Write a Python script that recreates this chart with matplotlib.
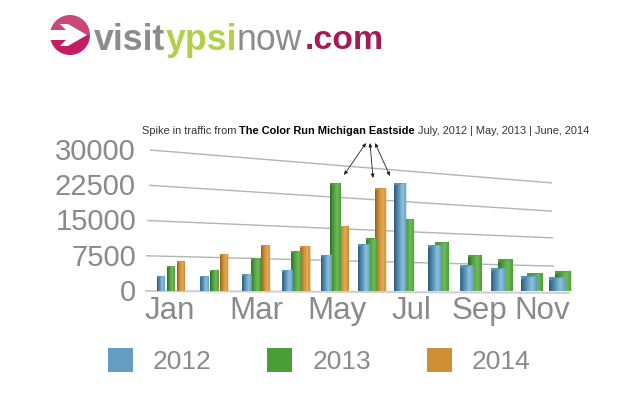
import numpy as np
import matplotlib
matplotlib.use("Agg")
import matplotlib.pyplot as plt
from matplotlib.colors import LinearSegmentedColormap
from matplotlib.patches import Patch, Polygon, Wedge
from matplotlib.transforms import Affine2D

W, H = 618, 412
months = ["Jan", "Feb", "Mar", "Apr", "May", "Jun", "Jul", "Aug", "Sep", "Oct", "Nov", "Dec"]
shown_months = ["Jan", "Mar", "May", "Jul", "Sep", "Nov"]
v2012 = [3200, 3200, 3600, 4500, 7700, 10000, 23000, 9800, 5500, 4900, 3200, 3000]
v2013 = [5300, 4500, 7000, 8500, 23000, 11300, 15300, 10400, 7700, 6800, 3800, 4300]
v2014 = [6400, 7900, 9800, 9600, 13800, 21900, 0, 0, 0, 0, 0, 0]
years = ["2012", "2013", "2014"]
y_ticks = [0, 7500, 15000, 22500, 30000]
# the grid lines run downhill, this is where each one seems to end on the right
grid_right = [-400, 5300, 11300, 17000, 23000]

GREY = "#8a8a8a"
FONT = "Liberation Sans"
blue = ["#2f5a78", "#5590b5", "#8cc0de", "#659fc4"]
green = ["#2f6e28", "#4f9f40", "#70bb58", "#4c9c3c"]
orange = ["#94621f", "#cc8e37", "#e6aa55", "#c98a30"]
legend_colors = ["#659cc2", "#4a9e35", "#cf9035"]

PX = 30000 / 141  # value units for one pixel up the chart
Y0 = 291          # pixel row of the zero line


def py(row):
    return (Y0 - row) * PX


def slot(i):
    # months get closer together towards the back of the chart
    return 157 + 44.06 * i - 0.766 * i * i


def bar_3d(ax, left, width, value, colors, z):
    ax.bar(left, value, width, align="edge", color=colors[1], linewidth=0, zorder=z)
    cmap = LinearSegmentedColormap.from_list("b", colors)
    t = np.linspace(0, 1, 20)
    xs = left + t * width
    top = value + PX * (width * 0.25 * (t - 1) + 1.0 * np.sqrt(t * (1 - t)))
    verts = list(zip(xs, top)) + [(left + width, 0), (left, 0)]
    shape = Polygon(verts, closed=True, transform=ax.transData, facecolor="none", edgecolor="none")
    ax.add_patch(shape)
    im = ax.imshow(np.linspace(0, 1, 40).reshape(1, -1), cmap=cmap, aspect="auto",
                   extent=(left, left + width, 0, value + 3 * PX), zorder=z + 0.1)
    im.set_clip_path(shape)


fig = plt.figure(figsize=(W / 100, H / 100), dpi=100, facecolor="white")
ax = fig.add_axes([0, 0, 1, 1])
ax.set_axis_off()
ax.set_xlim(0, W)
ax.set_ylim(py(H), py(0))

# ----- grid -----
grid_x0 = [145, 146, 147, 149, 150]
grid_x1 = [570, 554, 553, 552, 552]
for k in range(len(y_ticks)):
    ax.plot([grid_x0[k], grid_x1[k]], [y_ticks[k], grid_right[k]], color="#b4b4b4" if k else "#cfcfcf",
            lw=1.0 if k else 1.5, zorder=1, solid_capstyle="butt")
    ax.text(136, y_ticks[k] - 2 * PX, f"{y_ticks[k]}", ha="right", va="center", fontsize=21,
            family=FONT, color=GREY)

# ----- bars, back to front -----
for i in range(len(months)):
    w = 8 + 0.75 * i
    step = 10 - 4 * i / 11
    x = slot(i)
    if v2014[i]:
        bar_3d(ax, x + 2 * step, w, v2014[i], orange, 3)
    bar_3d(ax, x + step, w, v2013[i], green, 4)
    bar_3d(ax, x, w, v2012[i], blue, 5)

for name in shown_months:
    i = months.index(name)
    ax.text(slot(i) + 13 + 0.8 * i, py(311), name, ha="center", va="center", fontsize=22.5,
            family=FONT, color=GREY)

# ----- legend -----
handles = [Patch(facecolor=c, edgecolor="none") for c in legend_colors]
leg = ax.legend(handles, years, ncols=3, frameon=False, prop={"family": FONT, "size": 19},
                labelcolor=GREY, loc="center", bbox_to_anchor=(319 / W, 1 - 361 / H),
                handlelength=0.95, handleheight=1.0, handletextpad=0.75, columnspacing=2.12,
                borderpad=0, borderaxespad=0)

# ----- annotation -----
fig.canvas.draw()
rend = fig.canvas.get_renderer()


def text_run(x, row, parts):
    # lays text pieces one after another from pixel x
    for s, kw in parts:
        t = fig.text(x / W, 1 - row / H, s, ha="left", va="baseline", **kw)
        x = t.get_window_extent(rend).x1
    return x


small = {"family": FONT, "fontsize": 7.95, "color": "#333333"}
text_run(142, 134, [("Spike in traffic from ", small),
                    ("The Color Run Michigan Eastside ", {**small, "weight": "bold", "color": "black"}),
                    ("July, 2012 | May, 2013 | June, 2014", small)])

arrows = [((366, 143), (344, 175)), ((370, 143), (373, 178)), ((375, 143), (390, 176))]
for a, b in arrows:
    ax.annotate("", xy=(b[0], py(b[1])), xytext=(a[0], py(a[1])), zorder=8,
                arrowprops=dict(arrowstyle="<|-|>,head_length=0.22,head_width=0.1", color="#222222",
                                lw=0.6, shrinkA=0, shrinkB=0))

# ----- logo -----
logo = {"family": FONT, "fontsize": 25.7}
end = text_run(94, 50, [("visit", {**logo, "color": "#8c8c8c", "weight": "bold"}),
                        ("ypsi", {**logo, "color": "#b4cf4a", "weight": "bold"}),
                        ("now", {**logo, "color": "#8c8c8c"})])
text_run(end + 3, 49, [(".com", {**logo, "color": "#a31d55", "weight": "bold", "fontsize": 24.4})])

lx, ly = 70, py(35)
ry = 20 * PX
circle = Affine2D().scale(20, ry).translate(lx, ly) + ax.transData
ax.add_patch(Wedge((0, 0), 1, 0, 180, transform=circle, facecolor="#c9487c", edgecolor="none", zorder=9))
ax.add_patch(Wedge((0, 0), 1, 180, 360, transform=circle, facecolor="#c41e62", edgecolor="none", zorder=9))
arrow_shape = [(50, 30), (66, 30), (60, 24), (68, 24), (87, 35), (68, 46), (60, 46), (66, 40), (50, 40)]
ax.add_patch(Polygon([(a, py(b)) for a, b in arrow_shape], closed=True, facecolor="white", edgecolor="none", zorder=10))

fig.savefig("out.png", dpi=100, facecolor="white")
